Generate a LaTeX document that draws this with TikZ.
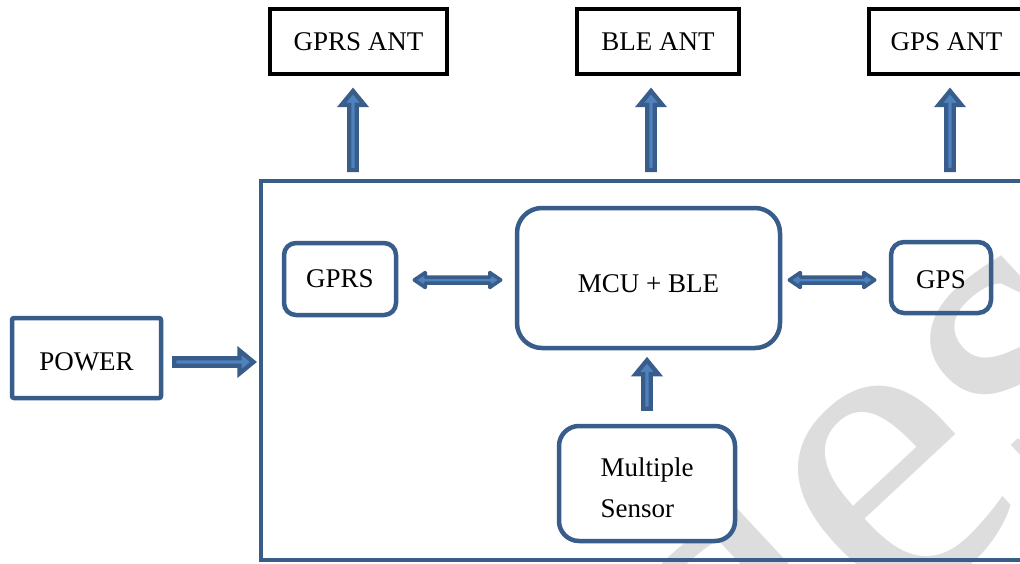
\documentclass[tikz,border=0pt]{standalone}
\usepackage{fontspec}
\setmainfont{Liberation Serif}
\usetikzlibrary{calc}
\definecolor{boxline}{HTML}{385D8A}
\definecolor{arrfill}{HTML}{4F81BD}
\definecolor{wm}{RGB}{221,221,221}
\tikzset{
  x=1pt, y=-1pt,
  lbl/.style={font=\fontsize{27}{41}\selectfont, inner sep=0pt},
  antbox/.style={lbl, draw=black, line width=4pt},
  bluebox/.style={lbl, draw=boxline, line width=4.5pt},
  roundbox/.style={bluebox, rounded corners=#1},
  blk/.style={draw=boxline, fill=arrfill, line width=4.3pt, line join=miter},
  dblk/.style={draw=boxline, fill=arrfill, line width=3.5pt, line join=round},
}
% single-headed block arrow from #1 (tail) to #2 (tip)
\newcommand\blockarrow[2]{%
  \draw[blk] let \p1=(#1), \p2=(#2),
      \n1={veclen(\x2-\x1,\y2-\y1)}, \n2={atan2(\y2-\y1,\x2-\x1)} in
    [shift={(\x1,\y1)}, rotate=\n2]
    (0,-3.7) -- ({\n1-14},-3.7) -- ({\n1-14},-11.5) -- (\n1,0)
    -- ({\n1-14},11.5) -- ({\n1-14},3.7) -- (0,3.7) -- cycle;}
% double-headed block arrow between #1 and #2
\newcommand\twoarrow[2]{%
  \draw[dblk] let \p1=(#1), \p2=(#2),
      \n1={veclen(\x2-\x1,\y2-\y1)}, \n2={atan2(\y2-\y1,\x2-\x1)} in
    [shift={(\x1,\y1)}, rotate=\n2]
    (0,0) -- (11,-7.5) -- (11,-3) -- ({\n1-11},-3) -- ({\n1-11},-7.5) -- (\n1,0)
    -- ({\n1-11},7.5) -- ({\n1-11},3) -- (11,3) -- (11,7.5) -- cycle;}
\begin{document}
\begin{tikzpicture}
\useasboundingbox (0,0) rectangle (1020,563);
\clip (0,0) rectangle (1020,563);
\fill[white] (0,0) rectangle (1020,563);

% background watermark letters
\node[text=wm, rotate=43, anchor=base west, inner sep=0pt, font=\fontsize{440}{440}\selectfont] (wmark) at (732,782) {des};

% antenna boxes
\node[antbox, minimum width=177, minimum height=65] (gprsant) at (358.5,41.5) {GPRS ANT};
\node[antbox, minimum width=162, minimum height=65] (bleant) at (658,41.5) {BLE ANT};
\node[antbox, minimum width=155, minimum height=65] (gpsant) at (946.5,41.5) {GPS ANT};

% main board outline
\node[draw=boxline, line width=4pt, inner sep=0pt, minimum width=780, minimum height=378.5] (board) at (650.5,370.25) {};

% power supply
\node[roundbox=2pt, minimum width=149, minimum height=80, text height=26pt] (power) at (86.5,358) {POWER};

% modules on the board
\node[roundbox=12pt, minimum width=112, minimum height=72] (gprs) at (340,279) {GPRS};
\node[roundbox=25pt, minimum width=263, minimum height=140, text height=30pt] (mcu) at (648.5,278) {MCU + BLE};
\node[roundbox=13pt, minimum width=100, minimum height=71, text height=22pt] (gps) at (941,277.5) {GPS};
\node[roundbox=20pt, fill=white, minimum width=176, minimum height=115] (sensor) at (647,483.5) {};
\node[lbl, align=left] (sensortxt) at ($(sensor.center)+(0,4.5)$) {Multiple\\Sensor};

% arrow end points
\coordinate (a1t) at ($(gprsant.south |- board.north)+(-5.5,-9)$);
\coordinate (a1h) at ($(gprsant.south)+(-5.5,15)$);
\coordinate (a2t) at ($(bleant.south |- board.north)+(-7,-9)$);
\coordinate (a2h) at ($(bleant.south)+(-7,15)$);
\coordinate (a3t) at ($(gpsant.south |- board.north)+(3.5,-9)$);
\coordinate (a3h) at ($(gpsant.south)+(3.5,15)$);
\coordinate (pt) at ($(power.east)+(11,4)$);
\coordinate (ph) at ($(board.west |- pt)+(-5,0)$);
\coordinate (gl) at ($(gprs.east)+(16,1)$);
\coordinate (gr) at ($(mcu.west |- gl)+(-14,0)$);
\coordinate (ml) at ($(mcu.east)+(7,2)$);
\coordinate (mr) at ($(gps.west |- ml)+(-14,0)$);
\coordinate (st) at ($(sensor.north)+(0,-15)$);
\coordinate (sh) at ($(mcu.south)+(-1.5,10)$);

% connections
\blockarrow{a1t}{a1h}
\blockarrow{a2t}{a2h}
\blockarrow{a3t}{a3h}
\blockarrow{pt}{ph}
\twoarrow{gl}{gr}
\twoarrow{ml}{mr}
\blockarrow{st}{sh}
\end{tikzpicture}
\end{document}
